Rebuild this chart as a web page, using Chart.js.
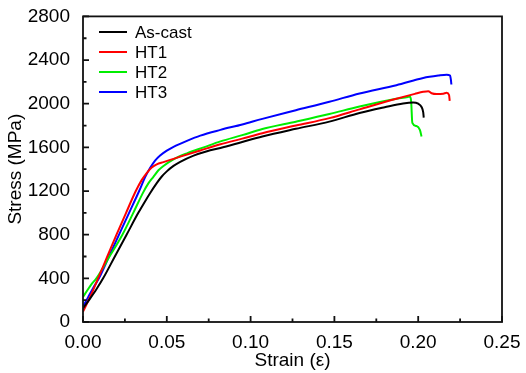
<!DOCTYPE html>
<html>
<head>
<meta charset="utf-8">
<script src="https://cdn.jsdelivr.net/npm/chart.js@4.4.1/dist/chart.umd.min.js"></script>
<style>
  html, body { margin: 0; padding: 0; background: #fff; }
</style>
</head>
<body>
<canvas id="chart" width="526" height="373"></canvas>
<script>
// valores (deformacion / esfuerzo en MPa)
const strainAsCast = [0, 0.004, 0.008, 0.012, 0.019, 0.026, 0.033, 0.037, 0.040, 0.044, 0.047, 0.050, 0.054, 0.058, 0.066, 0.074, 0.082, 0.095, 0.107, 0.127, 0.147, 0.165, 0.180, 0.191, 0.197, 0.200, 0.2020, 0.2030, 0.2033];
const stressAsCast = [125, 210, 300, 400, 600, 800, 1000, 1105, 1180, 1272, 1333, 1380, 1430, 1468, 1525, 1565, 1595, 1650, 1700, 1770, 1836, 1915, 1968, 2003, 2012, 2000, 1970, 1920, 1873];

const strainHT1 = [0, 0.003, 0.006, 0.009, 0.0145, 0.020, 0.0257, 0.0315, 0.035, 0.038, 0.041, 0.044, 0.048, 0.052, 0.058, 0.070, 0.082, 0.095, 0.107, 0.127, 0.147, 0.165, 0.187, 0.198, 0.203, 0.206, 0.208, 0.211, 0.215, 0.217, 0.2184, 0.2188];
const stressHT1 = [95, 190, 290, 400, 600, 800, 1000, 1200, 1300, 1365, 1415, 1445, 1465, 1485, 1515, 1572, 1628, 1680, 1730, 1800, 1868, 1948, 2045, 2090, 2109, 2115, 2096, 2088, 2092, 2100, 2080, 2027];

const strainHT2 = [0, 0.003, 0.005, 0.008, 0.0158, 0.0235, 0.030, 0.036, 0.039, 0.042, 0.045, 0.048, 0.054, 0.062, 0.072, 0.082, 0.095, 0.107, 0.127, 0.147, 0.165, 0.187, 0.193, 0.195, 0.1958, 0.1965, 0.199, 0.201, 0.202];
const stressHT2 = [230, 300, 345, 400, 600, 800, 1000, 1190, 1270, 1330, 1390, 1430, 1490, 1545, 1600, 1655, 1712, 1768, 1835, 1905, 1975, 2045, 2060, 2065, 2020, 1825, 1795, 1760, 1700];

const strainHT3 = [0, 0.003, 0.006, 0.0095, 0.0155, 0.0215, 0.0275, 0.0335, 0.037, 0.040, 0.043, 0.046, 0.050, 0.054, 0.062, 0.070, 0.082, 0.095, 0.107, 0.127, 0.147, 0.165, 0.187, 0.203, 0.212, 0.217, 0.219, 0.2195, 0.2198];
const stressHT3 = [140, 225, 310, 400, 600, 800, 1000, 1200, 1325, 1410, 1478, 1525, 1570, 1605, 1660, 1708, 1760, 1810, 1861, 1940, 2018, 2094, 2170, 2236, 2258, 2266, 2258, 2220, 2176];

const seriesLabels = ['As-cast', 'HT1', 'HT2', 'HT3'];
const seriesColors = ['#000000', '#ff0000', '#00ee00', '#0000ff'];

const xTicks = [0, 0.05, 0.10, 0.15, 0.20, 0.25];
const yTicks = [0, 400, 800, 1200, 1600, 2000, 2400, 2800];

const FONT = 'Arial, "Liberation Sans", sans-serif';

const toPoints = (xs, ys) => xs.map((x, i) => ({ x: x, y: ys[i] }));
const allSeries = [
  toPoints(strainAsCast, stressAsCast),
  toPoints(strainHT1, stressHT1),
  toPoints(strainHT2, stressHT2),
  toPoints(strainHT3, stressHT3),
];

// marco del grafico y marcas hacia dentro
const frameTicks = {
  id: 'frameTicks',
  afterDatasetsDraw(chart) {
    const { ctx, chartArea: a, scales: { x, y } } = chart;
    ctx.save();
    ctx.strokeStyle = '#111';
    ctx.lineWidth = 1.8;
    ctx.strokeRect(a.left, a.top, a.right - a.left, a.bottom - a.top);
    ctx.beginPath();
    for (let i = 0; i <= 10; i++) {
      const px = x.getPixelForValue(i * 0.025);
      const len = i % 2 === 0 ? 6 : 3.5;
      ctx.moveTo(px, a.bottom);
      ctx.lineTo(px, a.bottom - len);
    }
    for (let i = 0; i <= 14; i++) {
      const py = y.getPixelForValue(i * 200);
      const len = i % 2 === 0 ? 6 : 3.5;
      ctx.moveTo(a.left, py);
      ctx.lineTo(a.left + len, py);
    }
    ctx.stroke();
    ctx.restore();
  }
};

// leyenda dentro del area del grafico
const insideLegend = {
  id: 'insideLegend',
  afterDraw(chart) {
    const { ctx } = chart;
    ctx.save();
    ctx.font = '17px ' + FONT;
    ctx.textBaseline = 'middle';
    ctx.fillStyle = '#000';
    chart.data.datasets.forEach((ds, i) => {
      const yy = 32 + i * 20;
      ctx.strokeStyle = ds.borderColor;
      ctx.lineWidth = 2;
      ctx.beginPath();
      ctx.moveTo(99, yy);
      ctx.lineTo(127, yy);
      ctx.stroke();
      ctx.fillText(ds.label, 135, yy + 1);
    });
    ctx.restore();
  }
};

new Chart(document.getElementById('chart'), {
  type: 'scatter',
  data: {
    datasets: allSeries.map((pts, i) => ({
      label: seriesLabels[i],
      data: pts,
      showLine: true,
      borderColor: seriesColors[i],
      backgroundColor: seriesColors[i],
      borderWidth: 2,
      pointRadius: 0,
      cubicInterpolationMode: 'monotone',
    }))
  },
  options: {
    responsive: false,
    animation: false,
    devicePixelRatio: 1,
    layout: { padding: { left: 0, right: 24, top: 14, bottom: 0 } },
    plugins: {
      legend: { display: false },
      tooltip: { enabled: false }
    },
    scales: {
      x: {
        type: 'linear',
        min: 0,
        max: 0.25,
        afterBuildTicks: (s) => { s.ticks = xTicks.map(v => ({ value: v })); },
        afterFit: (s) => { s.height = 51; },
        grid: { display: false },
        border: { display: false },
        ticks: {
          color: '#000',
          padding: 1,
          maxRotation: 0,
          autoSkip: false,
          font: { family: FONT, size: 19 },
          callback: (v) => Number(v).toFixed(2)
        },
        title: {
          display: true,
          text: 'Strain (ε)',
          color: '#000',
          padding: { top: 0, bottom: 1 },
          font: { family: FONT, size: 19 }
        }
      },
      y: {
        min: 0,
        max: 2800,
        afterBuildTicks: (s) => { s.ticks = yTicks.map(v => ({ value: v })); },
        afterFit: (s) => { s.width = 83; },
        grid: { display: false },
        border: { display: false },
        ticks: {
          color: '#000',
          padding: 5,
          autoSkip: false,
          font: { family: FONT, size: 19 },
          callback: (v) => String(v)
        },
        title: {
          display: true,
          text: 'Stress (MPa)',
          color: '#000',
          padding: { top: 4, bottom: 0 },
          font: { family: FONT, size: 19 }
        }
      }
    }
  },
  plugins: [frameTicks, insideLegend]
});
</script>
</body>
</html>
